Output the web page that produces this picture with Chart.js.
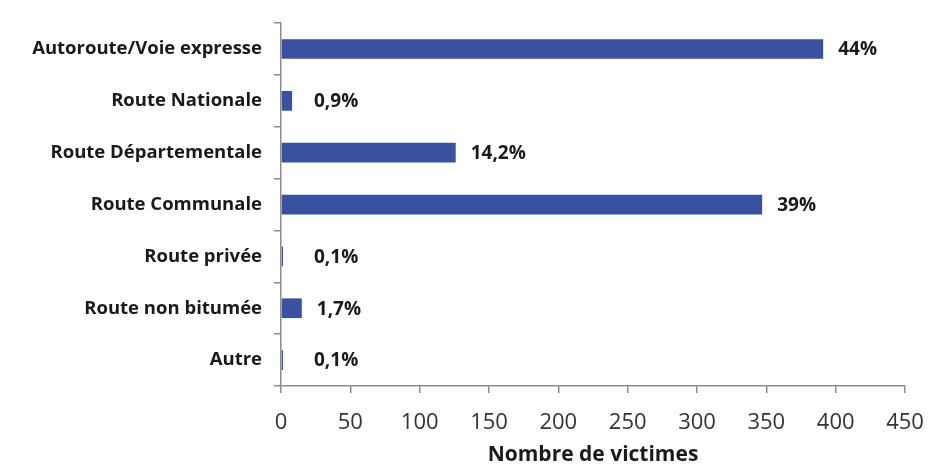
<!DOCTYPE html>
<html>
<head>
<meta charset="utf-8">
<script src="https://cdn.jsdelivr.net/npm/chart.js@4.4.0/dist/chart.umd.min.js"></script>
<style>
  html, body { margin: 0; padding: 0; background: #fff; }
  #wrap { width: 928px; height: 466px; }
</style>
</head>
<body>
<div id="wrap"><canvas id="chart-canvas" width="928" height="466"></canvas></div>
<script>
// data
var categories = ['Autoroute/Voie expresse', 'Route Nationale', 'Route Départementale',
  'Route Communale', 'Route privée', 'Route non bitumée', 'Autre'];
var victims = [391, 8, 126, 347, 1, 15, 1];
var shares = ['44%', '0,9%', '14,2%', '39%', '0,1%', '1,7%', '0,1%'];
var xTicks = [0, 50, 100, 150, 200, 250, 300, 350, 400, 450];

var barColor = '#3A51A2';
var fontFam = '"Open Sans", "Noto Sans", sans-serif';

// value labels at the end of each bar
var shareLabels = {
  id: 'shareLabels',
  afterDatasetsDraw: function (chart) {
    var c = chart.ctx;
    var meta = chart.getDatasetMeta(0);
    c.save();
    c.font = 'bold 19px ' + fontFam;
    c.fillStyle = '#1a1a1a';
    c.textBaseline = 'middle';
    c.textAlign = 'left';
    meta.data.forEach(function (bar, i) {
      var x = Math.max(bar.x + 15, chart.chartArea.left + 33);
      c.fillText(shares[i], x, bar.y + 1);
    });
    c.restore();
  }
};

var ctx = document.getElementById('chart-canvas').getContext('2d');
var chart = new Chart(ctx, {
  type: 'bar',
  data: {
    labels: categories,
    datasets: [{
      label: 'Nombre de victimes',
      data: victims,
      backgroundColor: barColor,
      barPercentage: 0.76,
      categoryPercentage: 0.5,
      minBarLength: 2
    }]
  },
  options: {
    indexAxis: 'y',
    responsive: false,
    animation: false,
    layout: { padding: { left: 0, right: 23, top: 18, bottom: 0 } },
    plugins: {
      legend: { display: false },
      tooltip: { enabled: false }
    },
    scales: {
      x: {
        min: 0,
        max: 450,
        afterBuildTicks: function (scale) {
          scale.ticks = xTicks.map(function (v) { return { value: v }; });
        },
        afterFit: function (scale) {
          scale.height = 80;
          scale.paddingLeft = 0;
          scale.paddingRight = 0;
        },
        border: { color: '#8c8c8c', width: 1.5 },
        grid: { drawOnChartArea: false, tickLength: 7, color: '#8c8c8c', lineWidth: 1.5 },
        ticks: {
          padding: 17,
          maxRotation: 0,
          color: '#333',
          font: { family: fontFam, size: 22 }
        },
        title: {
          display: true,
          text: 'Nombre de victimes',
          color: '#1a1a1a',
          padding: { top: 4, bottom: 0 },
          font: { family: fontFam, size: 21, weight: 'bold', lineHeight: 1 }
        }
      },
      y: {
        afterFit: function (scale) { scale.width = 281; },
        border: { color: '#8c8c8c', width: 1.5 },
        grid: { drawOnChartArea: false, offset: true, tickLength: 7, color: '#8c8c8c', lineWidth: 1.5 },
        ticks: {
          padding: 12,
          color: '#1a1a1a',
          font: { family: fontFam, size: 18.5, weight: 'bold' }
        }
      }
    }
  },
  plugins: [shareLabels]
});
</script>
</body>
</html>
